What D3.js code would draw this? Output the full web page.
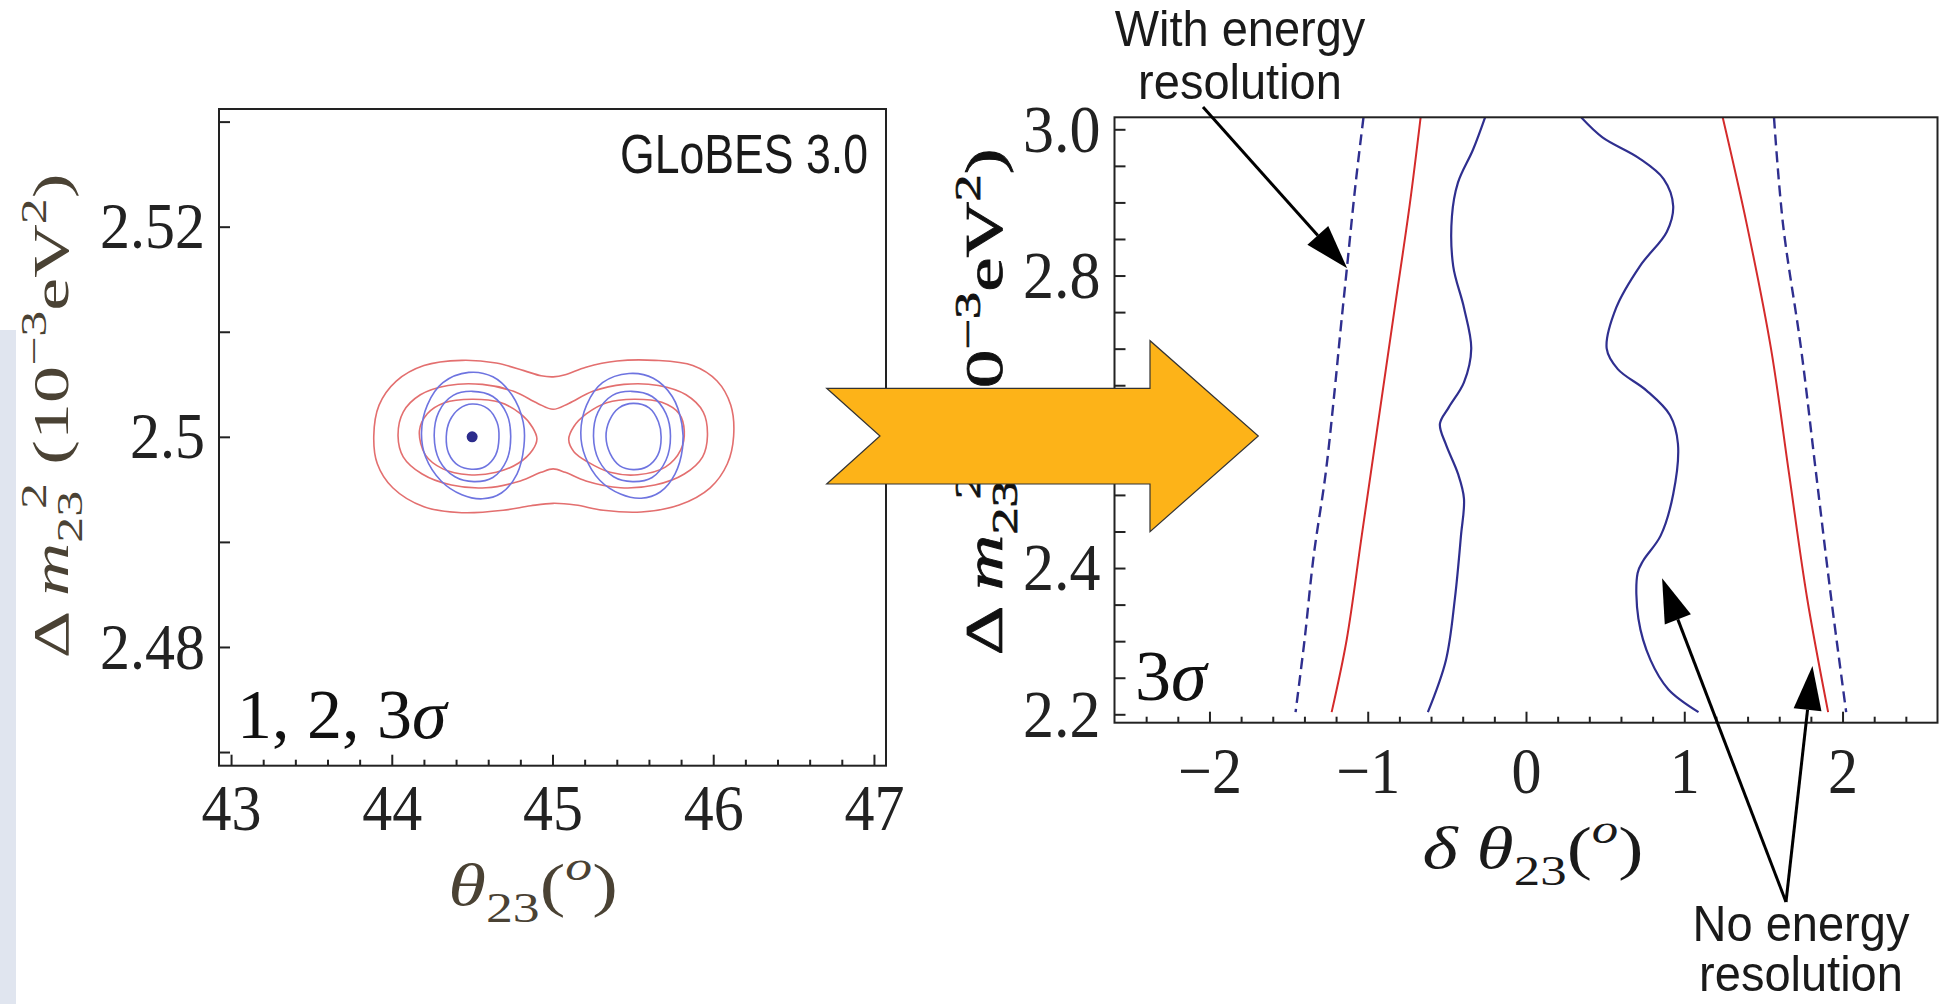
<!DOCTYPE html>
<html>
<head>
<meta charset="utf-8">
<script src="https://cdn.jsdelivr.net/npm/d3@7"></script>
<style>
  body { margin: 0; background: #fff; }
  svg { display: block; }
</style>
</head>
<body>
<svg id="chart" width="1947" height="1004"></svg>
<script>
// ---- left panel: theta23 vs dm23^2, GLoBES contours ----
let leftThetaTicks = [43, 44, 45, 46, 47];
let leftDm2Ticks = [2.48, 2.5, 2.52];
let bestFit = [44.5, 2.5];

// blue contours (1,2,3 sigma) around the two octants
let blue1L = [[44.5,2.50312],[44.597,2.50269],[44.655,2.50138],[44.667,2.4999],[44.646,2.49826],[44.582,2.49718],[44.496,2.49692],[44.414,2.49728],[44.354,2.49843],[44.339,2.5],[44.361,2.50154],[44.421,2.50269]];
let blue2L = [[44.5,2.50433],[44.629,2.50384],[44.715,2.5022],[44.74,2.50007],[44.715,2.49777],[44.629,2.49613],[44.511,2.49574],[44.393,2.4962],[44.296,2.49777],[44.264,2.50007],[44.292,2.50236],[44.382,2.50394]];
let blue3L = [[44.479,2.50613],[44.629,2.50571],[44.747,2.504],[44.818,2.50138],[44.822,2.49908],[44.779,2.49646],[44.682,2.49465],[44.564,2.4941],[44.436,2.49449],[44.307,2.4958],[44.21,2.4981],[44.185,2.50039],[44.221,2.50302],[44.318,2.50515]];
let blue1R = [[45.502,2.50318],[45.601,2.50276],[45.659,2.50144],[45.676,2.49997],[45.655,2.49826],[45.59,2.49718],[45.502,2.49688],[45.419,2.49724],[45.358,2.49843],[45.333,2.5],[45.354,2.50154],[45.414,2.50276]];
let blue2R = [[45.491,2.50433],[45.62,2.50384],[45.706,2.5022],[45.734,2.50007],[45.706,2.49777],[45.62,2.49613],[45.498,2.49574],[45.38,2.4962],[45.288,2.49777],[45.255,2.50007],[45.283,2.50236],[45.373,2.50394]];
let blue3R = [[45.476,2.50603],[45.627,2.50558],[45.745,2.50384],[45.805,2.50121],[45.809,2.49892],[45.762,2.49646],[45.67,2.49475],[45.552,2.49416],[45.423,2.49456],[45.294,2.49587],[45.204,2.4981],[45.176,2.50039],[45.212,2.50302],[45.311,2.50515]];

// red contours (no energy resolution)
let red1L = [[44.172,2.50056],[44.221,2.5022],[44.328,2.50325],[44.5,2.50358],[44.672,2.50328],[44.8,2.5022],[44.876,2.50089],[44.903,2.4998],[44.876,2.49875],[44.79,2.49751],[44.65,2.49662],[44.479,2.49639],[44.318,2.49695],[44.21,2.49826]];
let red1R = [[45.101,2.49974],[45.133,2.50098],[45.212,2.5022],[45.337,2.50325],[45.509,2.50358],[45.68,2.50328],[45.788,2.5022],[45.82,2.50056],[45.798,2.49875],[45.702,2.49711],[45.53,2.49639],[45.358,2.49662],[45.219,2.49761],[45.133,2.49859]];
let red2 = [[44.039,2.50007],[44.071,2.50236],[44.178,2.504],[44.35,2.50489],[44.564,2.50499],[44.758,2.50433],[44.908,2.50318],[45.004,2.50262],[45.101,2.50318],[45.251,2.50433],[45.444,2.50499],[45.659,2.50489],[45.831,2.504],[45.938,2.50236],[45.964,2.50007],[45.934,2.4981],[45.82,2.49646],[45.637,2.49541],[45.423,2.49515],[45.208,2.4958],[45.079,2.49662],[45.004,2.49695],[44.929,2.49662],[44.8,2.4958],[44.586,2.49515],[44.371,2.49541],[44.189,2.49646],[44.071,2.4981]];
let red3 = [[43.888,2.50007],[43.921,2.50302],[44.028,2.50531],[44.2,2.50679],[44.436,2.50728],[44.65,2.50702],[44.822,2.5063],[44.929,2.50581],[45.004,2.50571],[45.079,2.5059],[45.208,2.50663],[45.401,2.50722],[45.637,2.50728],[45.873,2.50679],[46.024,2.50531],[46.109,2.50302],[46.127,2.50007],[46.088,2.49744],[45.981,2.49515],[45.788,2.49351],[45.552,2.49285],[45.316,2.49301],[45.144,2.49351],[45.004,2.49367],[44.865,2.49344],[44.693,2.49301],[44.436,2.49278],[44.2,2.49334],[44.006,2.49515],[43.91,2.49744]];

// ---- right panel: delta theta23 vs dm23^2 at 3 sigma ----
let rightDthetaTicks = [-2, -1, 0, 1, 2];
let rightDm2Ticks = [2.2, 2.4, 2.6, 2.8, 3.0];

let dashedLeft = [[-1.027,3.016],[-1.076,2.927],[-1.133,2.807],[-1.171,2.727],[-1.209,2.643],[-1.266,2.529],[-1.342,2.416],[-1.399,2.302],[-1.456,2.203]];
let redLeft = [[-0.666,3.016],[-0.734,2.898],[-0.829,2.756],[-0.943,2.586],[-1.038,2.444],[-1.133,2.302],[-1.228,2.203]];
let blueLeft = [[-0.259,3.016],[-0.335,2.972],[-0.43,2.927],[-0.468,2.881],[-0.46,2.813],[-0.392,2.756],[-0.346,2.7],[-0.392,2.654],[-0.487,2.62],[-0.544,2.597],[-0.506,2.569],[-0.43,2.529],[-0.392,2.495],[-0.411,2.444],[-0.449,2.359],[-0.506,2.274],[-0.62,2.203]];
let blueRight = [[0.35,3.016],[0.483,2.989],[0.711,2.961],[0.87,2.932],[0.93,2.895],[0.89,2.86],[0.72,2.813],[0.57,2.756],[0.51,2.7],[0.58,2.672],[0.76,2.643],[0.91,2.609],[0.96,2.57],[0.93,2.501],[0.85,2.444],[0.74,2.41],[0.705,2.393],[0.71,2.331],[0.787,2.274],[0.9,2.234],[1.09,2.203]];
let redRight = [[1.243,3.016],[1.395,2.87],[1.548,2.7],[1.662,2.529],[1.776,2.359],[1.909,2.203]];
let dashedRight = [[1.567,3.016],[1.624,2.87],[1.738,2.7],[1.833,2.529],[1.928,2.359],[2.023,2.203]];

let svg = d3.select('#chart');
let serif = "'Liberation Serif', 'Times New Roman', serif";
let sans = "'Liberation Sans', Arial, sans-serif";

// faint slide background strip on the far left
svg.append('rect').attr('x', 0).attr('y', 330).attr('width', 16).attr('height', 674).attr('fill', '#e0e5ef');

let addMath = (textSel, parts, size) => {
  let shift = 0;
  parts.forEach((p) => {
    let str = p[0], kind = p[1], dx = p[2];
    let target = 0;
    if (kind == 'sub') target = size * 0.28;
    if (kind == 'sup' || kind == 'supi') target = -size * 0.42;
    let ts = textSel.append('tspan').text(str).attr('dy', target - shift);
    if (dx) ts.attr('dx', dx);
    if (kind == 'sub' || kind == 'sup' || kind == 'supi') ts.attr('font-size', size * 0.7);
    if (kind == 'i' || kind == 'supi') ts.attr('font-style', 'italic');
    shift = target;
  });
}

let styleAxis = (g, size) => {
  g.select('.domain').remove();
  g.attr('font-family', serif).attr('font-size', size).attr('color', '#222');
  g.selectAll('line').attr('stroke-width', 2);
  g.selectAll('text').attr('transform', 'scale(1,1.1)');
}

// ================= left panel =================
let xL = d3.scaleLinear().domain([42.925, 47.075]).range([219, 886]);
let yL = d3.scaleLinear().domain([2.4687, 2.5312]).range([765.7, 109]);
let left = svg.append('g');

let dmMinorL = [2.47, 2.49, 2.51, 2.53];

left.append('g').attr('transform', `translate(0,${yL.range()[0]})`)
  .call(d3.axisBottom(xL).tickValues(leftThetaTicks).tickSize(-11).tickPadding(16).tickFormat(d3.format('d')))
  .call(g => styleAxis(g, 60));
left.append('g').attr('transform', `translate(0,${yL.range()[0]})`)
  .call(d3.axisBottom(xL).tickValues(d3.range(43.2, 47, 0.2).filter(d => Math.abs(d - Math.round(d)) > 0.01)).tickSize(-6).tickFormat(''))
  .call(g => styleAxis(g, 60));
left.append('g').attr('transform', `translate(${xL.range()[0]},0)`)
  .call(d3.axisLeft(yL).tickValues(leftDm2Ticks).tickSize(-11).tickPadding(14).tickFormat(d => String(d)))
  .call(g => styleAxis(g, 60));
left.append('g').attr('transform', `translate(${xL.range()[0]},0)`)
  .call(d3.axisLeft(yL).tickValues(dmMinorL).tickSize(-11).tickFormat(''))
  .call(g => styleAxis(g, 60));

let contourLine = d3.line().x(d => xL(d[0])).y(d => yL(d[1])).curve(d3.curveCatmullRomClosed);
[red3, red2, red1L, red1R].forEach(c => {
  left.append('path').attr('d', contourLine(c)).attr('fill', 'none').attr('stroke', '#e36f6f').attr('stroke-width', 1.6);
});
[blue3L, blue2L, blue1L, blue3R, blue2R, blue1R].forEach(c => {
  left.append('path').attr('d', contourLine(c)).attr('fill', 'none').attr('stroke', '#6e74e0').attr('stroke-width', 1.6);
});
left.append('circle').attr('cx', xL(bestFit[0])).attr('cy', yL(bestFit[1])).attr('r', 5.5).attr('fill', '#2c2c8c');

left.append('rect')
  .attr('x', xL.range()[0]).attr('y', yL.range()[1])
  .attr('width', xL.range()[1] - xL.range()[0]).attr('height', yL.range()[0] - yL.range()[1])
  .attr('fill', 'none').attr('stroke', '#222').attr('stroke-width', 2);

left.append('text').attr('transform', 'translate(868,173) scale(0.97,1.22)').attr('text-anchor', 'end')
  .attr('font-family', sans).attr('font-size', 46).attr('fill', '#1a1a1a').text('GLoBES 3.0');

let sigL = left.append('text').attr('x', 237).attr('y', 738).attr('font-family', serif).attr('font-size', 70).attr('fill', '#111');
addMath(sigL, [['1, 2, 3'], ['σ', 'i']], 70);

let lxt = left.append('text').attr('transform', 'translate(533,905) scale(1.28,1)').attr('text-anchor', 'middle')
  .attr('font-family', serif).attr('font-size', 60).attr('fill', '#4a4234');
addMath(lxt, [['θ', 'i'], ['23', 'sub'], ['('], ['o', 'supi'], [')']], 60);

let lyt = left.append('text').attr('transform', 'translate(68,416) rotate(-90) scale(1.3,0.9)').attr('text-anchor', 'middle')
  .attr('font-family', serif).attr('font-size', 57).attr('fill', '#4a4234');
addMath(lyt, [['Δ '], ['m', 'i'], ['23', 'sub'], ['2', 'sup', -14], [' (10'], ['−3', 'sup'], ['eV'], ['2', 'sup'], [')']], 57);

// ================= right panel =================
let xR = d3.scaleLinear().domain([-2.6, 2.6]).range([1114.5, 1937.5]);
let yR = d3.scaleLinear().domain([2.1885, 3.0164]).range([722.7, 117.3]);
let right = svg.append('g');

right.append('clipPath').attr('id', 'clipR').append('rect')
  .attr('x', xR.range()[0]).attr('y', yR.range()[1])
  .attr('width', xR.range()[1] - xR.range()[0]).attr('height', yR.range()[0] - yR.range()[1]);

right.append('g').attr('transform', `translate(0,${yR.range()[0]})`)
  .call(d3.axisBottom(xR).tickValues(rightDthetaTicks).tickSize(-11).tickPadding(21).tickFormat(d3.format('d')))
  .call(g => styleAxis(g, 60));
right.append('g').attr('transform', `translate(0,${yR.range()[0]})`)
  .call(d3.axisBottom(xR).tickValues(d3.range(-2.4, 2.5, 0.2).filter(d => Math.abs(d - Math.round(d)) > 0.01)).tickSize(-6).tickFormat(''))
  .call(g => styleAxis(g, 60));
right.append('g').attr('transform', `translate(${xR.range()[0]},0)`)
  .call(d3.axisLeft(yR).tickValues(rightDm2Ticks).tickSize(-11).tickPadding(14).tickFormat(d3.format('.1f')))
  .call(g => styleAxis(g, 62));
right.append('g').attr('transform', `translate(${xR.range()[0]},0)`)
  .call(d3.axisLeft(yR).tickValues(d3.range(2.25, 3.0, 0.05).filter(d => Math.abs(d * 5 - Math.round(d * 5)) > 0.01)).tickSize(-11).tickFormat(''))
  .call(g => styleAxis(g, 62));

let curve = d3.line().x(d => xR(d[0])).y(d => yR(d[1])).curve(d3.curveCatmullRom);
let curves = right.append('g').attr('clip-path', 'url(#clipR)');
[dashedLeft, dashedRight].forEach(c => {
  curves.append('path').attr('d', curve(c)).attr('fill', 'none').attr('stroke', '#2f2f8f')
    .attr('stroke-width', 2.4).attr('stroke-dasharray', '11,6');
});
[redLeft, redRight].forEach(c => {
  curves.append('path').attr('d', curve(c)).attr('fill', 'none').attr('stroke', '#d42b2b').attr('stroke-width', 2);
});
[blueLeft, blueRight].forEach(c => {
  curves.append('path').attr('d', curve(c)).attr('fill', 'none').attr('stroke', '#2f2f8f').attr('stroke-width', 2.2);
});

right.append('rect')
  .attr('x', xR.range()[0]).attr('y', yR.range()[1])
  .attr('width', xR.range()[1] - xR.range()[0]).attr('height', yR.range()[0] - yR.range()[1])
  .attr('fill', 'none').attr('stroke', '#222').attr('stroke-width', 2);

let sigR = right.append('text').attr('x', 1135).attr('y', 700).attr('font-family', serif).attr('font-size', 72).attr('fill', '#111');
addMath(sigR, [['3'], ['σ', 'i']], 72);

let rxt = right.append('text').attr('transform', 'translate(1533,868) scale(1.26,1)').attr('text-anchor', 'middle')
  .attr('font-family', serif).attr('font-size', 60).attr('fill', '#1a1a1a');
addMath(rxt, [['δ ', 'i'], ['θ', 'i'], ['23', 'sub'], ['('], ['o', 'supi'], [')']], 60);

let ryt = right.append('text').attr('transform', 'translate(1002,402) rotate(-90) scale(1.36,0.92)').attr('text-anchor', 'middle')
  .attr('font-family', serif).attr('font-size', 57).attr('fill', '#111')
  .attr('stroke', '#111').attr('stroke-width', 0.8);
addMath(ryt, [['Δ '], ['m', 'i'], ['23', 'sub'], ['2', 'sup', -14], [' (10'], ['−3', 'sup'], ['eV'], ['2', 'sup'], [')']], 57);

// ================= annotations =================
let drawArrow = (x1, y1, x2, y2) => {
  let a = Math.atan2(y2 - y1, x2 - x1), hl = 44, hw = 14;
  let bx = x2 - hl * Math.cos(a), by = y2 - hl * Math.sin(a);
  svg.append('line').attr('x1', x1).attr('y1', y1).attr('x2', bx).attr('y2', by)
    .attr('stroke', '#000').attr('stroke-width', 3);
  svg.append('path')
    .attr('d', `M${x2},${y2}L${bx + hw * Math.sin(a)},${by - hw * Math.cos(a)}L${bx - hw * Math.sin(a)},${by + hw * Math.cos(a)}Z`)
    .attr('fill', '#000');
}

let note = (x, y, lines, gap) => {
  let t = svg.append('text').attr('transform', `translate(${x},${y}) scale(1,1.08)`)
    .attr('font-family', sans).attr('font-size', 47).attr('fill', '#1a1a1a').attr('text-anchor', 'middle');
  lines.forEach((l, i) => t.append('tspan').attr('x', 0).attr('y', i * gap / 1.08).text(l));
}

note(1240, 46, ['With energy', 'resolution'], 53);
drawArrow(1203, 107, xR(-1.13), yR(2.81));
note(1801, 941, ['No energy', 'resolution'], 50);
drawArrow(1786, 902, xR(0.86), yR(2.386));
drawArrow(1786, 902, xR(1.81), yR(2.266));

// big orange block arrow between the panels
let ox = 826.7, oy = 436;
svg.append('path')
  .attr('d', `M${ox},${oy - 47.7}L${ox + 323.3},${oy - 47.7}L${ox + 323.3},${oy - 95.3}L${ox + 431.6},${oy}L${ox + 323.3},${oy + 95.7}L${ox + 323.3},${oy + 48}L${ox},${oy + 48}L${ox + 53.3},${oy}Z`)
  .attr('fill', '#fdb318').attr('stroke', '#333').attr('stroke-width', 1.2);
</script>
</body>
</html>
